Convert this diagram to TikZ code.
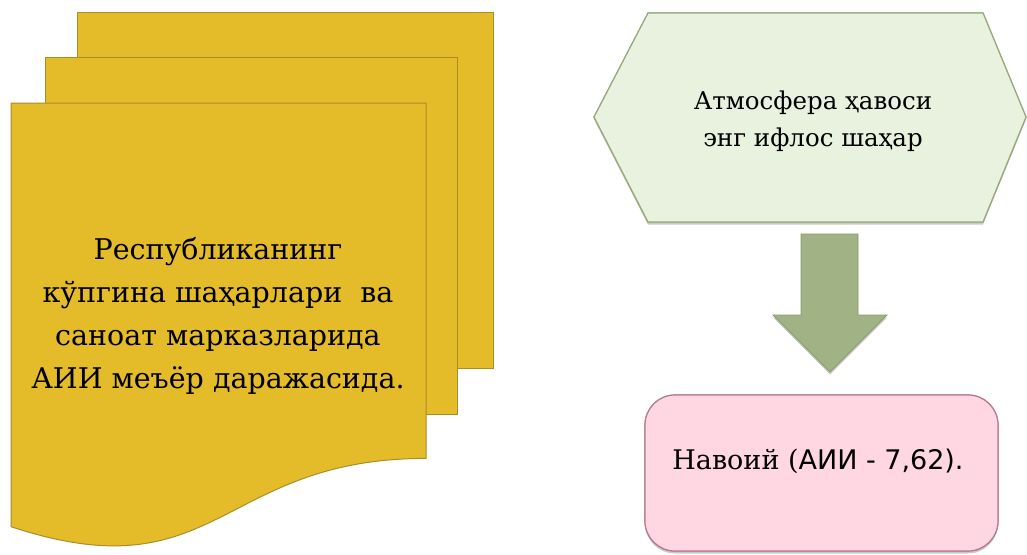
\documentclass[tikz,border=0pt]{standalone}
\usepackage{fontspec}
\setmainfont{DejaVu Serif}
\newfontfamily\sansf{DejaVu Sans}
\usetikzlibrary{shadows}
\definecolor{goldfill}{RGB}{228,187,41}
\definecolor{golddraw}{RGB}{172,140,38}
\definecolor{hexfill}{RGB}{233,241,223}
\definecolor{hexstripe}{RGB}{224,234,212}
\definecolor{hexdraw}{RGB}{150,170,122}
\definecolor{arrfill}{RGB}{161,178,133}
\definecolor{arrdraw}{RGB}{138,156,110}
\definecolor{pinkfill}{RGB}{255,215,227}
\definecolor{pinkstripe}{RGB}{250,205,219}
\definecolor{pinkdraw}{RGB}{182,122,142}
\tikzset{
  page/.style={fill=goldfill, draw=golddraw, line width=1pt},
  hexshape/.style={fill=hexfill, draw=hexdraw, line width=1.2pt, line join=miter},
  blockarrow/.style={fill=arrfill, draw=arrdraw, line width=0.8pt},
  pinkbox/.style={fill=pinkfill, draw=pinkdraw, line width=1.2pt, rounded corners=30pt},
  softshadow/.style={drop shadow={shadow xshift=0pt, shadow yshift=-2.5pt, opacity=0.35, fill=black!60}},
  doctext/.style={align=center, font=\fontsize{28.5}{43}\selectfont, inner sep=0pt},
  hextext/.style={align=center, font=\fontsize{24.5}{37}\selectfont, inner sep=0pt},
  restext/.style={font=\fontsize{27}{30}\selectfont, inner sep=0pt}
}
\begin{document}
\begin{tikzpicture}[x=1pt,y=-1pt]
\useasboundingbox (0,0) rectangle (1027,554);
% multidocument
\draw[page] (77.3,12) rectangle (493,368.5);
\draw[page] (45.2,57) rectangle (457.3,414.5);
\draw[page] (11,526.7) .. controls (218.5,595.1) and (218.5,458.4) .. (426,458.4)
  -- (426,103) -- (11,103) -- cycle;
\node[doctext] (doctxt) at (218,316) {Республиканинг\\кўпгина шаҳарлари\ \ ва\\саноат марказларида\\АИИ меъёр даражасида.};
% hexagon
\path[hexshape, softshadow] (594,117) -- (648,13) -- (983,13) -- (1026,117) -- (983,222) -- (648,222) -- cycle;
\begin{scope}
  \clip (594,117) -- (648,13) -- (983,13) -- (1026,117) -- (983,222) -- (648,222) -- cycle;
  \foreach \x in {598,606,...,1026} \draw[hexstripe, line width=2.5pt] (\x,0) -- (\x,230);
\end{scope}
\draw[hexshape] (594,117) -- (648,13) -- (983,13) -- (1026,117) -- (983,222) -- (648,222) -- cycle;
\node[hextext] (hextxt) at (813,121) {Атмосфера ҳавоси\\энг ифлос шаҳар};
% block arrow
\coordinate (arrtop) at (830,234);
\coordinate (arrtip) at (830,372);
\draw[blockarrow, softshadow] (801,234) -- (858,234) -- (858,315) -- (887,315) -- (arrtip) -- (773,315) -- (801,315) -- cycle;
% result box
\path[pinkbox, softshadow] (645,395) rectangle (998,551);
\begin{scope}
  \clip[rounded corners=30pt] (645,395) rectangle (998,551);
  \foreach \x in {650,658,...,998} \draw[pinkstripe, line width=2.5pt] (\x,390) -- (\x,554);
\end{scope}
\draw[pinkbox] (645,395) rectangle (998,551);
\node[restext] (restxt) at (818,461) {Навоий ({\sansf АИИ - 7,62).}};
\end{tikzpicture}
\end{document}
